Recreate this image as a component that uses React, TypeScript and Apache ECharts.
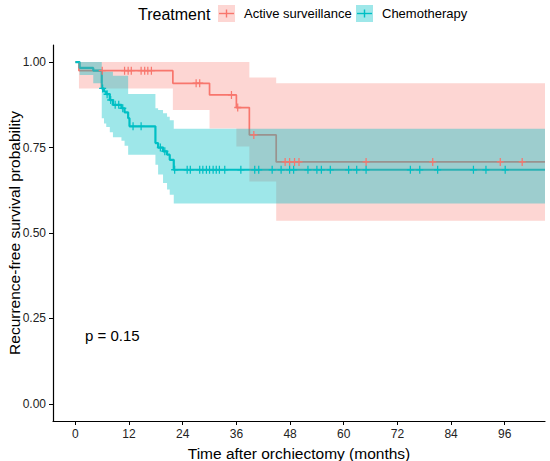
import React, { useEffect, useRef } from "react";
import * as echarts from "echarts";

// ---- data ----
const xTicks = [0, 12, 24, 36, 48, 60, 72, 84, 96];
const yTicks = [0, 0.25, 0.5, 0.75, 1.0];
const END_T = 105;

// Active surveillance KM steps
const activeT = [0, 0.8, 21.8, 30.0, 36.0, 38.9, 44.9];
const activeS = [1.0, 0.975, 0.938, 0.904, 0.867, 0.787, 0.708];
const activeBandT = [0.8, 21.8, 30.0, 36.0, 38.9, 44.9];
const activeBandLo = [0.923, 0.86, 0.806, 0.753, 0.651, 0.536];
const activeBandHi = [1.0, 1.0, 1.0, 1.0, 0.955, 0.938];
const activeCensor = [6.0, 11.0, 11.8, 12.5, 14.7, 15.5, 16.2, 17.0, 27.0, 27.8, 34.9, 36.3, 39.9, 46.9, 47.9, 49.0, 50.0, 65.0, 79.9, 95.0, 99.9];

// Chemotherapy KM steps
const chemoT = [0, 0.96, 4.0, 5.9, 6.4, 6.9, 7.7, 8.4, 10.3, 11.0, 11.8, 12.1, 17.9, 18.5, 19.6, 20.5, 21.1, 22.0];
const chemoS = [1.0, 0.983, 0.975, 0.923, 0.914, 0.906, 0.889, 0.875, 0.865, 0.853, 0.836, 0.812, 0.763, 0.75, 0.739, 0.729, 0.714, 0.685];
const chemoBandT = [0.96, 4.0, 5.9, 6.4, 6.9, 7.7, 8.4, 10.3, 11.0, 11.8, 17.9, 18.5, 19.6, 20.5, 21.1, 22.0];
const chemoBandLo = [0.962, 0.938, 0.836, 0.82, 0.81, 0.795, 0.78, 0.77, 0.755, 0.729, 0.7, 0.671, 0.646, 0.627, 0.612, 0.586];
const chemoBandHi = [1.0, 1.0, 0.972, 0.972, 0.972, 0.972, 0.96, 0.96, 0.96, 0.907, 0.865, 0.86, 0.85, 0.84, 0.83, 0.805];
const chemoCensor = [6.1, 7.1, 7.9, 8.9, 9.7, 10.6, 12.9, 14.7, 19.0, 20.0, 22.2, 25.0, 25.7, 27.8, 28.5, 29.3, 30.0, 30.8, 31.5, 32.2, 33.4, 37.0, 40.1, 41.0, 44.0, 46.0, 47.9, 48.8, 52.0, 54.0, 55.0, 57.0, 61.1, 62.9, 65.0, 74.9, 77.0, 81.0, 89.0, 91.8, 96.1];

const groups = ["Active surveillance", "Chemotherapy"];
const pText = "p = 0.15";
const xTitle = "Time after orchiectomy (months)";
const yTitle = "Recurrence-free survival probability";

const RED = "#F8766D";
const TEAL = "#00BFC4";
const RED_BAND = "rgba(248,118,109,0.3)";
const TEAL_BAND = "rgba(0,191,196,0.38)";
const FONT = "'Liberation Sans', Arial, sans-serif";

function stepData(T: number[], S: number[]) {
  const d = T.map((t, i) => [t, S[i]]);
  d.push([END_T, S[S.length - 1]]);
  return d;
}

function survAt(T: number[], S: number[], t: number) {
  let v = S[0];
  for (let i = 0; i < T.length; i++) if (T[i] <= t) v = S[i];
  return v;
}

function bandSeries(T: number[], lo: number[], hi: number[], fill: string, z: number) {
  return {
    type: "custom",
    silent: true,
    clip: true,
    z,
    data: [[T[0], lo[0]]],
    renderItem: (params: any, api: any) => {
      const pts: number[][] = [];
      for (let i = 0; i < T.length; i++) {
        const x0 = T[i];
        const x1 = i + 1 < T.length ? T[i + 1] : END_T;
        pts.push(api.coord([x0, hi[i]]), api.coord([x1, hi[i]]));
      }
      for (let i = T.length - 1; i >= 0; i--) {
        const x0 = T[i];
        const x1 = i + 1 < T.length ? T[i + 1] : END_T;
        pts.push(api.coord([x1, lo[i]]), api.coord([x0, lo[i]]));
      }
      return { type: "polygon", shape: { points: pts }, style: { fill } };
    },
  };
}

const PLUS = "path://M3.3,0H4.7V3.3H8V4.7H4.7V8H3.3V4.7H0V3.3H3.3Z";

function censorSeries(times: number[], T: number[], S: number[], color: string) {
  return {
    type: "scatter",
    silent: true,
    z: 5,
    symbol: PLUS,
    symbolSize: [7, 8],
    itemStyle: { color, opacity: 1 },
    data: times.map((t) => [t, survAt(T, S, t)]),
  };
}

function legendItem(x: number, label: string, stroke: string, band: string) {
  return [
    { type: "rect", shape: { x, y: 5, width: 17, height: 17 }, style: { fill: band } },
    { type: "line", shape: { x1: x + 1, y1: 13.5, x2: x + 16, y2: 13.5 }, style: { stroke, lineWidth: 1.4 } },
    { type: "line", shape: { x1: x + 8.5, y1: 9.5, x2: x + 8.5, y2: 17.5 }, style: { stroke, lineWidth: 1.4 } },
    {
      type: "text",
      x: x + 26,
      y: 13.5,
      style: { text: label, fontSize: 13, fontFamily: FONT, fill: "#000", verticalAlign: "middle", align: "left" },
    },
  ];
}

export default function App() {
  const ref = useRef<HTMLDivElement>(null);
  useEffect(() => {
    if (!ref.current) return;
    const chart = echarts.init(ref.current, null, { renderer: "svg" });
    chart.setOption({
      animation: false,
      backgroundColor: "#fff",
      textStyle: { fontFamily: FONT },
      grid: { left: 53, top: 45, width: 492, height: 376, containLabel: false, outerBoundsMode: "none" },
      xAxis: {
        type: "value",
        min: -5,
        max: 105,
        name: xTitle,
        nameLocation: "middle",
        nameGap: 24,
        nameTextStyle: { fontSize: 15.5, color: "#000", fontFamily: FONT },
        axisLine: { show: true, onZero: false, lineStyle: { color: "#000", width: 1.2 } },
        axisTick: { show: true, inside: false, length: 4, lineStyle: { color: "#000", width: 1 }, customValues: xTicks },
        axisLabel: { fontSize: 12, color: "#222", margin: 7, customValues: xTicks, fontFamily: FONT },
        splitLine: { show: false },
      },
      yAxis: {
        type: "value",
        min: -0.05,
        max: 1.05,
        axisLine: { show: true, onZero: false, lineStyle: { color: "#000", width: 1.2 } },
        axisTick: { show: true, inside: false, length: 4, lineStyle: { color: "#000", width: 1 }, customValues: yTicks },
        axisLabel: {
          fontSize: 12,
          color: "#222",
          margin: 7,
          customValues: yTicks,
          fontFamily: FONT,
          formatter: (v: number) => v.toFixed(2),
        },
        splitLine: { show: false },
      },
      graphic: [
        {
          type: "text",
          x: 14,
          y: 233,
          rotation: Math.PI / 2,
          style: {
            text: yTitle,
            fontSize: 15.5,
            fontFamily: FONT,
            fill: "#000",
            align: "center",
            verticalAlign: "middle",
          },
        },
        {
          type: "text",
          x: 138,
          y: 14,
          style: { text: "Treatment", fontSize: 16, fontFamily: FONT, fill: "#000", verticalAlign: "middle" },
        },
        ...legendItem(218, groups[0], RED, RED_BAND),
        ...legendItem(356, groups[1], TEAL, TEAL_BAND),
        {
          type: "text",
          x: 85,
          y: 335,
          style: { text: pText, fontSize: 15, fontFamily: FONT, fill: "#000", verticalAlign: "middle" },
        },
      ],
      series: [
        {
          type: "line",
          name: groups[0],
          step: "end",
          symbol: "none",
          silent: true,
          z: 2,
          lineStyle: { color: RED, width: 1.7 },
          data: stepData(activeT, activeS),
        },
        {
          type: "line",
          name: groups[1],
          step: "end",
          symbol: "none",
          silent: true,
          z: 2,
          lineStyle: { color: TEAL, width: 2.2 },
          data: stepData(chemoT, chemoS),
        },
        bandSeries(activeBandT, activeBandLo, activeBandHi, RED_BAND, 3),
        bandSeries(chemoBandT, chemoBandLo, chemoBandHi, TEAL_BAND, 3),
        censorSeries(activeCensor, activeT, activeS, RED),
        censorSeries(chemoCensor, chemoT, chemoS, TEAL),
      ],
    });
    return () => chart.dispose();
  }, []);
  return (
    <div
      ref={ref}
      style={{ position: "absolute", left: 0, top: 0, width: 550, height: 461, background: "#fff" }}
    />
  );
}
